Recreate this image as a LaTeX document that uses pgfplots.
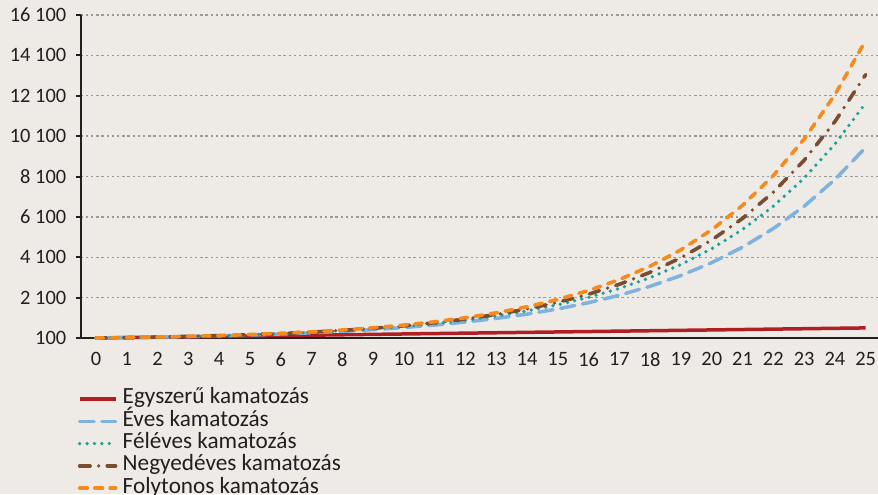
\documentclass[border=0pt]{standalone}
\usepackage{pgfplots}
\pgfplotsset{compat=1.18}
\usepackage{fontspec}
\setmainfont{Carlito}
\definecolor{bgc}{HTML}{EEEAE6}
\definecolor{txt}{HTML}{231F20}
\definecolor{cred}{HTML}{B01F24}
\definecolor{cblue}{HTML}{7FB2DF}
\definecolor{cteal}{HTML}{1BA39A}
\definecolor{cbrown}{HTML}{7A4C30}
\definecolor{corange}{HTML}{F58A1F}
\definecolor{cgrid}{HTML}{9A9A9A}
\begin{document}
\begin{tikzpicture}
\useasboundingbox (0,0) rectangle (439pt,247pt);
\fill[bgc] (0,0) rectangle (439pt,247pt);
\begin{axis}[
  at={(40.3pt,78pt)}, anchor=south west,
  scale only axis, width=398.7pt, height=161.5pt,
  xmin=-0.5, xmax=25.4, ymin=100, ymax=16100,
  scaled y ticks=false,
  axis x line*=bottom, axis y line*=left,
  axis line style={-, txt, line width=1pt},
  xtick={0,...,25}, major x tick style={draw=none},
  extra x ticks={0.5,1.5,...,24.5}, extra x tick labels={},
  extra x tick style={major tick length=2.5pt, tick style={txt, line width=1pt}, grid=none},
  ytick={100,2100,4100,6100,8100,10100,12100,14100,16100},
  yticklabels={100,2 100,4 100,6 100,8 100,10 100,12 100,14 100,16 100},
  tick align=outside, major tick length=2.5pt,
  tick style={txt, line width=1pt},
  ymajorgrids, grid style={cgrid, line width=0.7pt, dash pattern=on 1.2pt off 1.4pt},
  tick label style={font=\fontsize{10.2}{12}\selectfont, text=txt},
  /pgf/number format/assume math mode=true,
  yticklabel style={inner sep=0pt, xshift=-4.5pt},
  xticklabel style={inner sep=0pt, yshift=-4.5pt},
  clip=false,
  legend cell align=left,
  legend style={draw=none, fill=none, at={(axis description cs:-0.004,-0.156)}, anchor=north west,
    inner sep=0pt, font=\fontsize{11.6}{13}\selectfont, text=txt,
    nodes={inner sep=0.6pt, text height=7pt, text depth=2pt}, row sep=0.95pt},
  legend image code/.code={\draw[#1] (0.5pt,0pt) -- (18.5pt,0pt); \path (20.5pt,0pt);},
]
\addplot[cred, line width=1.75pt] coordinates {
(0,100)(1,120)(2,140)(3,160)(4,180)(5,200)(6,220)(7,240)(8,260)(9,280)(10,300)(11,320)(12,340)(13,360)(14,380)(15,400)(16,420)(17,440)(18,460)(19,480)(20,500)(21,520)(22,540)(23,560)(24,580)(25,600)};
\addlegendentry{Egyszerű kamatozás}
\addplot[cblue, line width=1.75pt, line cap=round, dash pattern=on 7.2pt off 3.9pt] coordinates {
(0,100)(1,120)(2,144)(3,172.8)(4,207.36)(5,248.83)(6,298.60)(7,358.32)(8,429.98)(9,515.98)(10,619.17)(11,743.01)(12,891.61)(13,1069.93)(14,1283.92)(15,1540.70)(16,1848.84)(17,2218.61)(18,2662.33)(19,3194.80)(20,3833.76)(21,4600.51)(22,5520.61)(23,6624.74)(24,7949.68)(25,9539.62)};
\addlegendentry{Éves kamatozás}
\addplot[cteal, line width=1.85pt, line cap=round, dash pattern=on 0pt off 3.7pt] coordinates {
(0,100)(1,121)(2,146.41)(3,177.16)(4,214.36)(5,259.37)(6,313.84)(7,379.75)(8,459.50)(9,555.99)(10,672.75)(11,814.03)(12,984.97)(13,1191.81)(14,1442.09)(15,1744.94)(16,2111.37)(17,2554.76)(18,3091.26)(19,3740.43)(20,4525.93)(21,5476.37)(22,6626.41)(23,8017.95)(24,9701.72)(25,11739.09)};
\addlegendentry{Féléves kamatozás}
\addplot[cbrown, line width=1.8pt, line cap=round, dash pattern=on 5.2pt off 4.3pt on 0pt off 4.3pt] coordinates {
(0,100)(1,121.55)(2,147.75)(3,179.59)(4,218.29)(5,265.33)(6,322.51)(7,392.01)(8,476.49)(9,579.18)(10,704.00)(11,855.72)(12,1040.13)(13,1264.29)(14,1536.75)(15,1867.92)(16,2270.49)(17,2759.79)(18,3354.56)(19,4077.48)(20,4956.21)(21,6024.28)(22,7322.57)(23,8900.65)(24,10818.85)(25,13150.13)};
\addlegendentry{Negyedéves kamatozás}
\addplot[corange, line width=1.8pt, line cap=round, dash pattern=on 3.8pt off 3.8pt] coordinates {
(0,100)(1,122.14)(2,149.18)(3,182.21)(4,222.55)(5,271.83)(6,332.01)(7,405.52)(8,495.30)(9,604.96)(10,738.91)(11,902.50)(12,1102.32)(13,1346.37)(14,1644.46)(15,2008.55)(16,2453.25)(17,2996.47)(18,3659.82)(19,4470.12)(20,5459.82)(21,6668.63)(22,8145.09)(23,9948.43)(24,12151.04)(25,14841.32)};
\addlegendentry{Folytonos kamatozás}
\end{axis}
\end{tikzpicture}
\end{document}
